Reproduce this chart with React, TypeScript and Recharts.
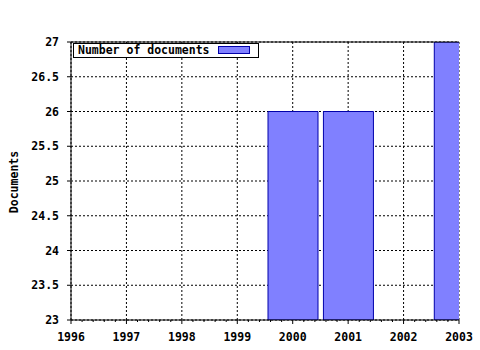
import React from 'react';
import { ComposedChart, Bar, XAxis, YAxis, CartesianGrid, Legend } from 'recharts';

const years = [2000, 2001, 2003];
const documents = [26, 26, 27];
const xMajorTicks = [1996, 1997, 1998, 1999, 2000, 2001, 2002, 2003];
const yTicks = [23, 23.5, 24, 24.5, 25, 25.5, 26, 26.5, 27];
const seriesName = 'Number of documents';
const yTitle = 'Documents';

const data = years.map((y, i) => ({ year: y, docs: documents[i] }));

const xAllTicks: number[] = [];
for (let i = 0; i < xMajorTicks.length - 1; i++) {
  for (let k = 0; k < 5; k++) xAllTicks.push(xMajorTicks[i] + k * 0.2);
}
xAllTicks.push(xMajorTicks[xMajorTicks.length - 1]);

const FONT = '"DejaVu Sans Mono", monospace';
const fontStyle: React.CSSProperties = { fontFamily: FONT, fontWeight: 'bold', fontSize: 11.5 };

const isMajor = (v: number) => Math.abs(v - Math.round(v)) < 1e-6;

const BottomTick = (props: any) => {
  const { x, y, payload } = props;
  const v = payload.value as number;
  const major = isMajor(v);
  return (
    <g>
      <line x1={x} x2={x} y1={y} y2={y + (major ? 4 : 2)} stroke="#000" />
      {major && (
        <text x={x} y={y + 17} textAnchor="middle" dominantBaseline="central" fill="#000" style={fontStyle}>
          {Math.round(v)}
        </text>
      )}
    </g>
  );
};

const TopTick = (props: any) => {
  const { x, y, payload } = props;
  const v = payload.value as number;
  const major = isMajor(v);
  return <line x1={x} x2={x} y1={major ? y + 3 : y} y2={y - (major ? 3 : 2)} stroke="#000" />;
};

const LegendBox = (props: any) => {
  const p = (props.payload && props.payload[0]) || {};
  return (
    <div
      style={{
        border: '1px solid #000',
        background: '#fff',
        width: 184,
        height: 13,
        position: 'relative',
        ...fontStyle,
        color: '#000',
      }}
    >
      <span style={{ position: 'absolute', left: 4, top: 0, lineHeight: '13px', whiteSpace: 'nowrap' }}>
        {p.value || seriesName}
      </span>
      <span
        style={{
          position: 'absolute',
          left: 144,
          top: 2,
          width: 30,
          height: 6,
          background: '#8080ff',
          border: '1px solid #0000aa',
        }}
      />
    </div>
  );
};

export default function App() {
  return (
    <div style={{ position: 'absolute', left: 0, top: 0, width: 480, height: 350, background: '#fff' }}>
      <ComposedChart
        width={480}
        height={350}
        data={data}
        margin={{ top: 32, right: 21, left: 21, bottom: 0 }}
      >
        <CartesianGrid
          stroke="#000"
          strokeDasharray="2 2"
          verticalValues={xMajorTicks}
          horizontalValues={yTicks}
        />
        <XAxis
          dataKey="year"
          type="number"
          domain={[1996, 2003]}
          ticks={xAllTicks}
          allowDataOverflow
          interval={0}
          height={30}
          tickSize={0}
          tickMargin={0}
          tickLine={false}
          axisLine={{ stroke: '#000' }}
          tick={<BottomTick />}
        />
        <XAxis
          xAxisId="top"
          orientation="top"
          type="number"
          domain={[1996, 2003]}
          ticks={xAllTicks}
          allowDataOverflow
          interval={0}
          height={10}
          tickSize={0}
          tickMargin={0}
          tickLine={false}
          axisLine={{ stroke: '#000' }}
          tick={<TopTick />}
        />
        <YAxis
          type="number"
          domain={[23, 27]}
          ticks={yTicks}
          allowDataOverflow
          interval={0}
          width={50}
          tickSize={4}
          tickMargin={8}
          tickLine={{ stroke: '#000' }}
          axisLine={{ stroke: '#000' }}
          tick={{ fill: '#000', style: fontStyle }}
          label={{
            content: () => (
              <text
                x={14}
                y={182}
                transform="rotate(-90 14 182)"
                textAnchor="middle"
                dominantBaseline="central"
                fill="#000"
                style={fontStyle}
              >
                {yTitle}
              </text>
            ),
          }}
        />
        <Legend
          verticalAlign="middle"
          align="center"
          content={<LegendBox />}
          wrapperStyle={{ left: 73, top: 43, width: 'auto', height: 'auto' }}
        />
        <Bar
          dataKey="docs"
          name={seriesName}
          fill="#8080ff"
          stroke="#0000aa"
          strokeWidth={1}
          barSize={50}
          isAnimationActive={false}
        />
      </ComposedChart>
    </div>
  );
}
